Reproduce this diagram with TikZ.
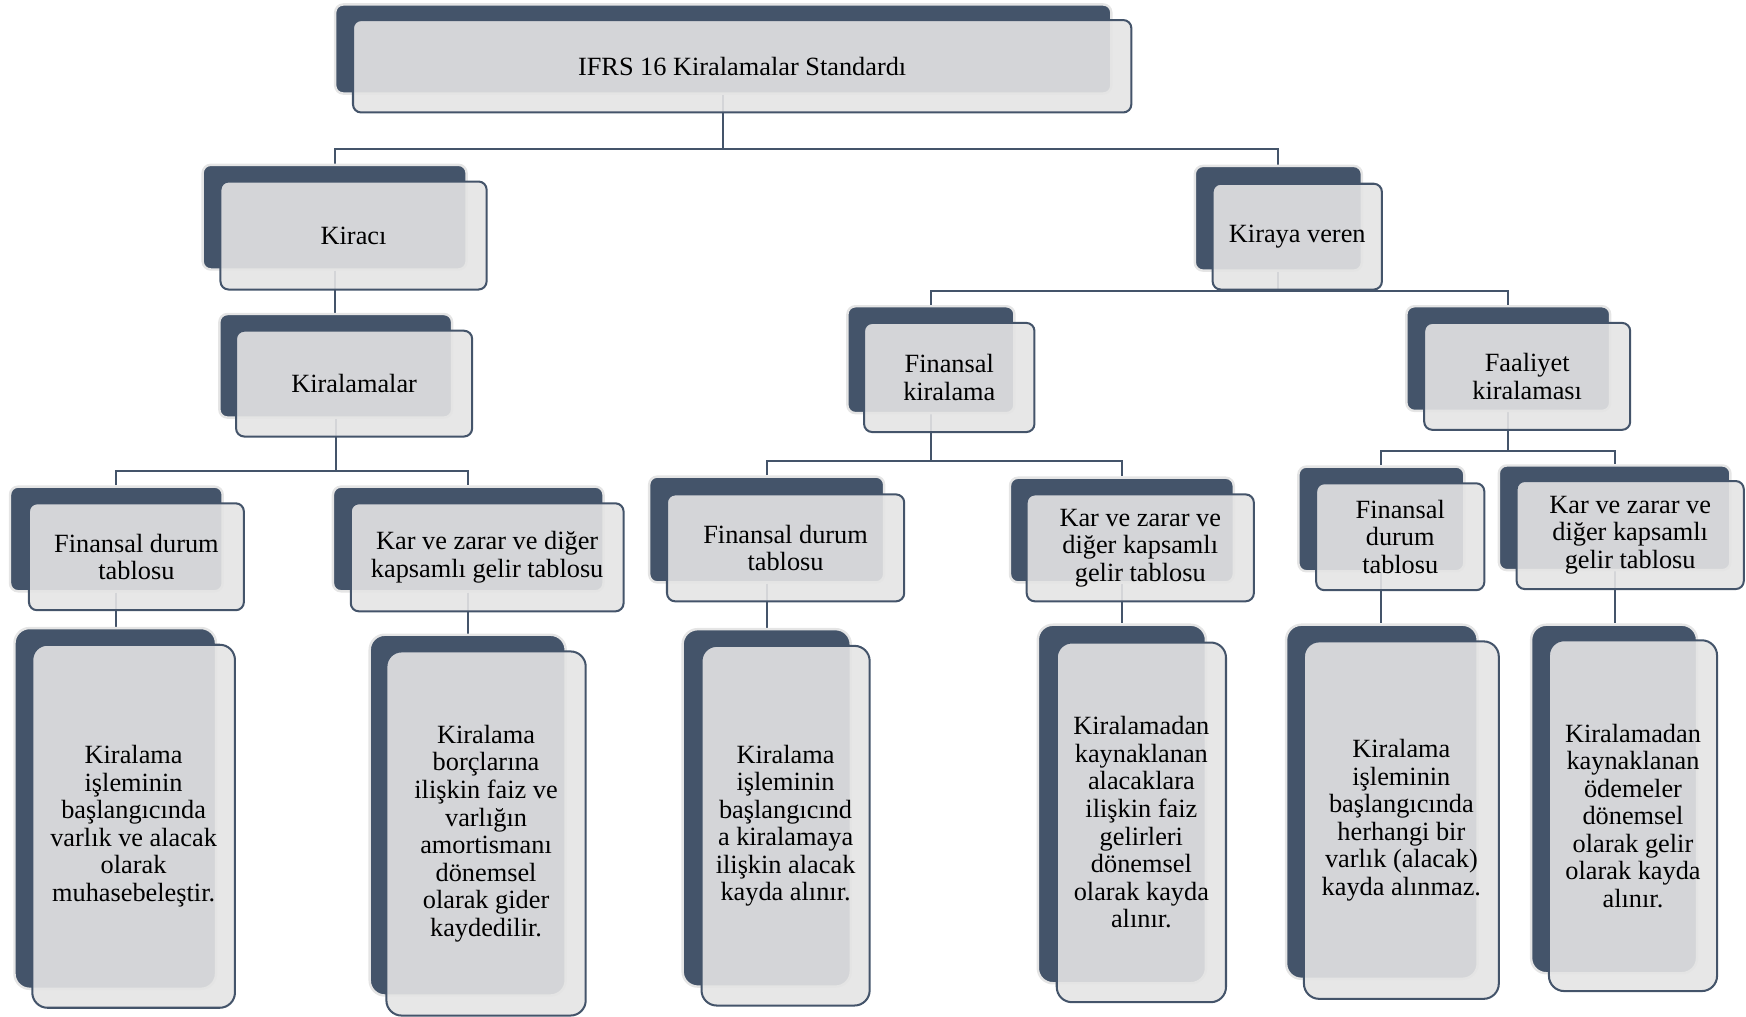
\documentclass[tikz,border=0pt]{standalone}
\usepackage{fontspec}
\setmainfont{Liberation Serif}
\usepackage{tikz}
\usetikzlibrary{fit,backgrounds}
\definecolor{koyu}{HTML}{44546A}
\definecolor{acik}{HTML}{E4E4E4}

\begin{document}
\begin{tikzpicture}[x=0.55pt, y=-0.55pt,
	arkakutu/.style={fill=koyu, draw=black!10, line width=1.2pt, rounded corners=4pt, inner sep=0pt},
	onkutu/.style={fill=acik, fill opacity=0.9, text opacity=1, draw=koyu, line width=1pt, rounded corners=4pt, inner sep=0pt, align=center, font=\fontsize{13}{13.6}\selectfont},
	boyut/.style 2 args={minimum width=#1*0.55pt, minimum height=#2*0.55pt},
	yaprak/.style={rounded corners=7.5pt},
	link/.style={draw=koyu, line width=1pt}]
	\useasboundingbox (0,0) rectangle (1568,913);

	\node[arkakutu, fit={(301,4) (998,84)}] (ust-a) {};
	\node[onkutu, boyut={699}{83}] (ust) at (666.5,59.5) {IFRS 16 Kiralamalar Standardı};

	\node[arkakutu, fit={(182,148) (419,242)}] (kiraci-a) {};
	\node[onkutu, boyut={239}{97}] (kiraci) at (317.5,211.5) {Kiracı};
	\node[arkakutu, fit={(1073,149) (1223,243)}] (kiraya-a) {};
	\node[onkutu, boyut={152}{95}] (kiraya) at (1165,212.5) {Kiraya veren};

	\node[arkakutu, fit={(197,282) (406,375)}] (kiralamalar-a) {};
	\node[onkutu, boyut={212}{95}] (kiralamalar) at (318,344.5) {Kiralamalar};
	\node[arkakutu, fit={(761,275) (911,371)}] (finkir-a) {};
	\node[onkutu, boyut={153}{98}] (finkir) at (852.5,339) {Finansal\\kiralama};
	\node[arkakutu, fit={(1263,275) (1446,369)}] (faal-a) {};
	\node[onkutu, boyut={185}{96}] (faal) at (1371.5,338) {Faaliyet\\kiralaması};

	\node[arkakutu, fit={(9,437) (200,531)}] (fdt1-a) {};
	\node[onkutu, boyut={193}{96}] (fdt1) at (122.5,500) {Finansal durum\\tablosu};
	\node[arkakutu, fit={(299,437) (542,531)}] (kzt1-a) {};
	\node[onkutu, boyut={245}{97}] (kzt1) at (437.5,500.5) {Kar ve zarar ve diğer\\kapsamlı gelir tablosu};
	\node[arkakutu, fit={(583,428) (794,523)}] (fdt2-a) {};
	\node[onkutu, boyut={213}{96}] (fdt2) at (705.5,492) {Finansal durum\\tablosu};
	\node[arkakutu, fit={(907,429) (1108,523)}] (kzt2-a) {};
	\node[onkutu, boyut={204}{96}] (kzt2) at (1024,492) {Kar ve zarar ve\\diğer kapsamlı\\gelir tablosu};
	\node[arkakutu, fit={(1166,419) (1315,513)}] (fdt3-a) {};
	\node[onkutu, boyut={151}{96}] (fdt3) at (1257.5,482) {Finansal\\durum\\tablosu};
	\node[arkakutu, fit={(1346,418) (1554,512)}] (kzt3-a) {};
	\node[onkutu, boyut={204}{97}] (kzt3) at (1464,480.5) {Kar ve zarar ve\\diğer kapsamlı\\gelir tablosu};

	\node[arkakutu, yaprak, fit={(13,564) (194,888)}] (y1-a) {};
	\node[onkutu, yaprak, boyut={182}{326}] (y1) at (120,742) {Kiralama\\işleminin\\başlangıcında\\varlık ve alacak\\olarak\\muhasebeleştir.};
	\node[arkakutu, yaprak, fit={(332,570) (508,894)}] (y2-a) {};
	\node[onkutu, yaprak, boyut={179}{327}] (y2) at (436.5,748.5) {Kiralama\\borçlarına\\ilişkin faiz ve\\varlığın\\amortismanı\\dönemsel\\olarak gider\\kaydedilir.};
	\node[arkakutu, yaprak, fit={(613,565) (764,886)}] (y3-a) {};
	\node[onkutu, yaprak, boyut={151}{323}] (y3) at (705.5,741.5) {Kiralama\\işleminin\\başlangıcınd\\a kiralamaya\\ilişkin alacak\\kayda alınır.};
	\node[arkakutu, yaprak, fit={(932,561) (1083,883)}] (y4-a) {};
	\node[onkutu, yaprak, boyut={152}{323}] (y4) at (1025,738.5) {Kiralamadan\\kaynaklanan\\alacaklara\\ilişkin faiz\\gelirleri\\dönemsel\\olarak kayda\\alınır.};
	\node[arkakutu, yaprak, fit={(1155,561) (1327,879)}] (y5-a) {};
	\node[onkutu, yaprak, boyut={175}{321}] (y5) at (1258.5,736.5) {Kiralama\\işleminin\\başlangıcında\\herhangi bir\\varlık (alacak)\\kayda alınmaz.};
	\node[arkakutu, yaprak, fit={(1375,561) (1524,874)}] (y6-a) {};
	\node[onkutu, yaprak, boyut={151}{315}] (y6) at (1466.5,732.5) {Kiralamadan\\kaynaklanan\\ödemeler\\dönemsel\\olarak gelir\\olarak kayda\\alınır.};

	\begin{scope}[on background layer]
		\draw[link] (ust-a.south) -- ++(0,49) coordinate (b1);
		\draw[link] (kiraci-a.north) |- (b1) -| (kiraya-a.north);
		\draw[link] (kiraci-a.south) -- (kiraci-a.south |- kiralamalar-a.north);
		\draw[link] (kiraya-a.south) -- ++(0,17) coordinate (b2);
		\draw[link] (finkir-a.north) |- (b2) -| (faal-a.north);
		\draw[link] (kiralamalar-a.south) -- ++(0,47) coordinate (b3);
		\draw[link] (fdt1-a.north) |- (b3) -| (kzt1-a.north);
		\draw[link] (finkir-a.south) -- ++(0,42) coordinate (b4);
		\draw[link] (fdt2-a.north) |- (b4) -| (kzt2-a.north);
		\draw[link] (faal-a.south) -- ++(0,35) coordinate (b5);
		\draw[link] (fdt3-a.north) |- (b5) -| (kzt3-a.north);
		\draw[link] (fdt1-a.south) -- (fdt1-a.south |- y1-a.north);
		\draw[link] (kzt1-a.south) -- (kzt1-a.south |- y2-a.north);
		\draw[link] (fdt2-a.south) -- (fdt2-a.south |- y3-a.north);
		\draw[link] (kzt2-a.south) -- (kzt2-a.south |- y4-a.north);
		\draw[link] (fdt3-a.south) -- (fdt3-a.south |- y5-a.north);
		\draw[link] (kzt3-a.south) -- (kzt3-a.south |- y6-a.north);
	\end{scope}
\end{tikzpicture}
\end{document}
